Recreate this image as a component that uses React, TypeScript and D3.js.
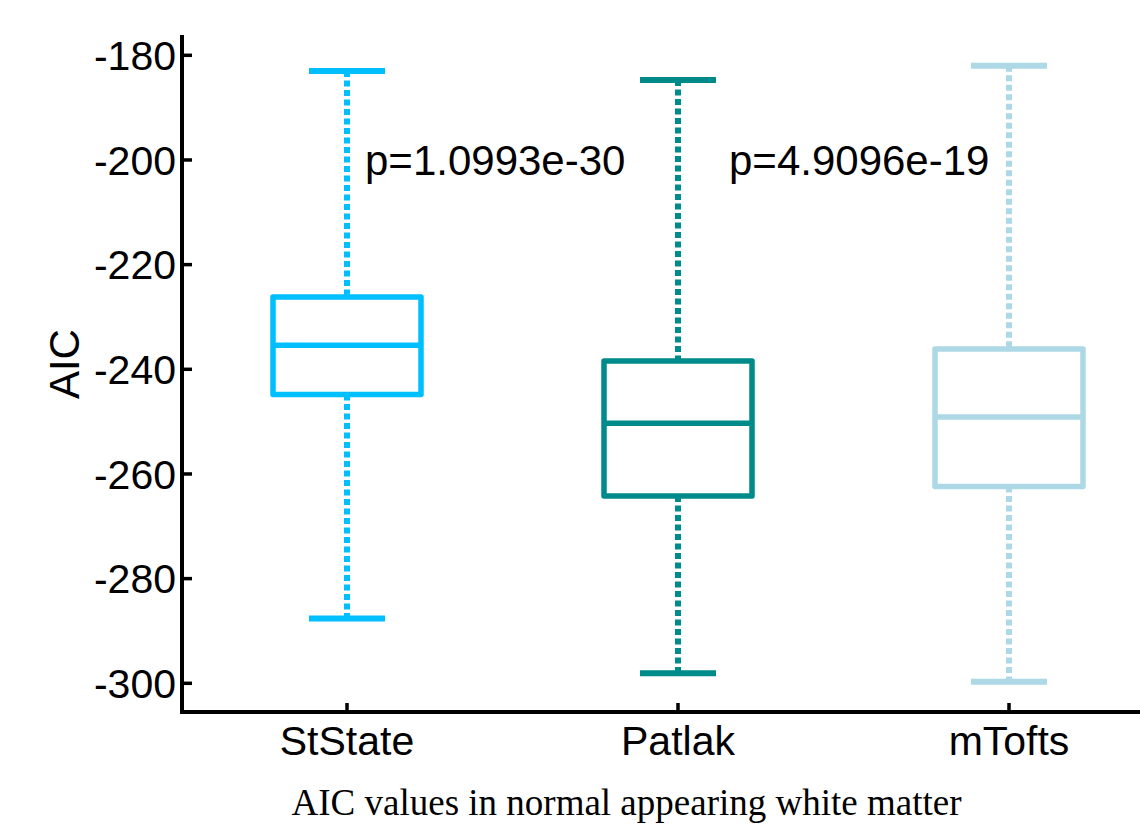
import React from "react";
import * as d3 from "d3";

const categories = ["StState", "Patlak", "mTofts"];
const whiskerHigh = [-183.0, -184.7, -182.0];
const q3 = [-226.2, -238.4, -236.1];
const median = [-235.4, -250.3, -249.1];
const q1 = [-244.8, -264.2, -262.4];
const whiskerLow = [-287.6, -298.1, -299.7];
const colors = ["#00BFFF", "#008B8B", "#ADD8E6"];
const yTicks = [-180, -200, -220, -240, -260, -280, -300];
const pLabels = ["p=1.0993e-30", "p=4.9096e-19"];
const yLabel = "AIC";
const caption = "AIC values in normal appearing white matter";

const W = 1140;
const H = 824;

export default function App() {
  const y = d3.scaleLinear().domain([-180, -300]).range([55.3, 683.3]);
  const x = d3.scalePoint<string>().domain(categories).range([347, 1009]);
  const axisX = 182;
  const axisY = 712;
  const boxW = 148;
  const capW = 76;
  const font = "Arial, 'Liberation Sans', Helvetica, sans-serif";

  return (
    <svg
      width={W}
      height={H}
      style={{ position: "absolute", left: 0, top: 0, background: "#fff" }}
    >
      <rect x={0} y={0} width={W} height={H} fill="#fff" />
      {/* boxes */}
      {categories.map((c, i) => {
        const cx = x(c) as number;
        const col = colors[i];
        return (
          <g key={c}>
            <line x1={cx} x2={cx} y1={y(whiskerHigh[i])} y2={y(q3[i])} stroke={col} strokeWidth={6} strokeDasharray="6,3.5" />
            <line x1={cx} x2={cx} y1={y(q1[i])} y2={y(whiskerLow[i])} stroke={col} strokeWidth={6} strokeDasharray="6,3.5" />
            <line x1={cx - capW / 2} x2={cx + capW / 2} y1={y(whiskerHigh[i])} y2={y(whiskerHigh[i])} stroke={col} strokeWidth={6} />
            <line x1={cx - capW / 2} x2={cx + capW / 2} y1={y(whiskerLow[i])} y2={y(whiskerLow[i])} stroke={col} strokeWidth={6} />
            <rect
              x={cx - boxW / 2}
              y={y(q3[i])}
              width={boxW}
              height={y(q1[i]) - y(q3[i])}
              fill="none"
              stroke={col}
              strokeWidth={5.5}
              strokeLinejoin="round"
            />
            <line x1={cx - boxW / 2} x2={cx + boxW / 2} y1={y(median[i])} y2={y(median[i])} stroke={col} strokeWidth={5.5} />
          </g>
        );
      })}
      {/* y axis */}
      <line x1={axisX} x2={axisX} y1={35} y2={axisY + 2} stroke="#000" strokeWidth={4} />
      {yTicks.map((t) => (
        <g key={t}>
          <line x1={axisX} x2={axisX + 10} y1={y(t)} y2={y(t)} stroke="#000" strokeWidth={3.5} />
          <text x={176} y={y(t)} dy="0.36em" textAnchor="end" fontFamily={font} fontSize={41} fill="#000">
            {t}
          </text>
        </g>
      ))}
      {/* x axis */}
      <line x1={axisX - 2} x2={W} y1={axisY} y2={axisY} stroke="#000" strokeWidth={4} />
      {categories.map((c) => (
        <g key={c}>
          <line x1={x(c) as number} x2={x(c) as number} y1={axisY} y2={axisY - 9} stroke="#000" strokeWidth={3.5} />
          <text x={x(c) as number} y={755} textAnchor="middle" fontFamily={font} fontSize={41} fill="#000">
            {c}
          </text>
        </g>
      ))}
      {/* p labels */}
      <text x={365} y={y(-200)} dy="0.36em" fontFamily={font} fontSize={42} fill="#000">{pLabels[0]}</text>
      <text x={729} y={y(-200)} dy="0.36em" fontFamily={font} fontSize={42} fill="#000">{pLabels[1]}</text>
      {/* y label */}
      <text
        transform={`translate(79, ${y(-239)}) rotate(-90)`}
        textAnchor="middle"
        fontFamily={font}
        fontSize={42}
        fill="#000"
      >
        {yLabel}
      </text>
      {/* caption */}
      <text x={626.5} y={815} textAnchor="middle" fontFamily="'Times New Roman', 'Liberation Serif', Times, serif" fontSize={37} fill="#000">
        {caption}
      </text>
    </svg>
  );
}
